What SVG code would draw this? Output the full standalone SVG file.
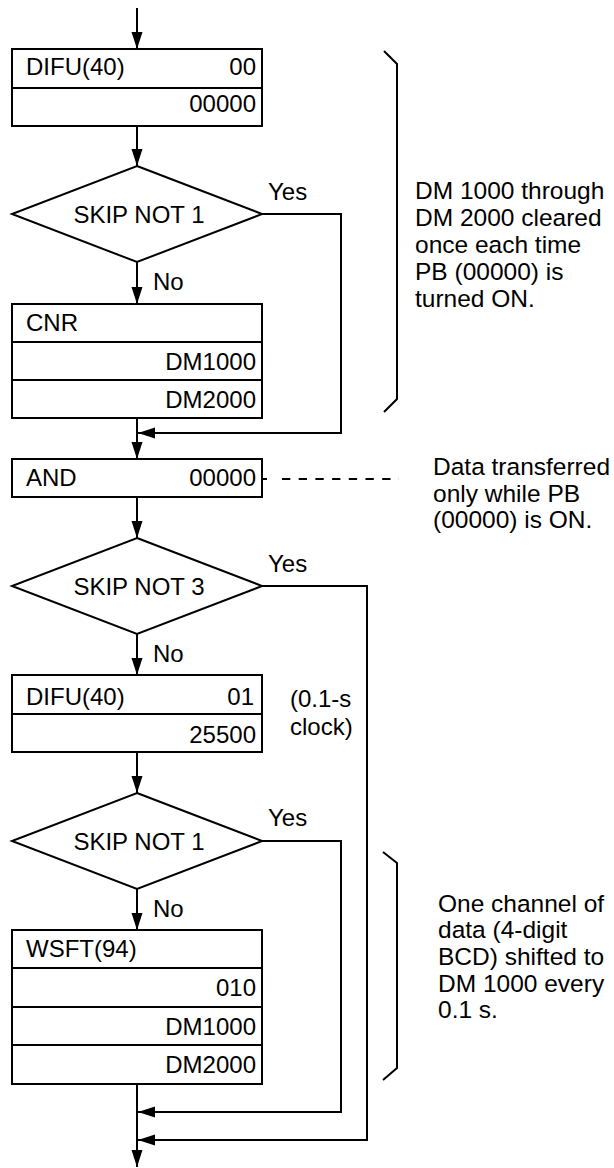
<svg xmlns="http://www.w3.org/2000/svg" width="614" height="1168" viewBox="0 0 614 1168">
<style>
  .box { fill: #fff; stroke: #000; stroke-width: 2; }
  .ln { fill: none; stroke: #000; stroke-width: 2; }
  .t { font-family: "Liberation Sans", Arial, Helvetica, sans-serif; font-size: 24px; fill: #000; }
  .r { text-anchor: end; }
  .m { text-anchor: middle; }
  .note { font-family: "Liberation Sans", Arial, Helvetica, sans-serif; font-size: 24.5px; fill: #000; }
  .arr { fill: none; stroke: #000; stroke-width: 2; marker-end: url(#ah); }
</style>
<defs>
  <marker id="ah" markerUnits="userSpaceOnUse" markerWidth="18" markerHeight="12" refX="17" refY="5.5" orient="auto">
    <path d="M0,0 L17,5.5 L0,11 z" fill="#000"/>
  </marker>
</defs>
<rect width="614" height="1168" fill="#fff"/>

<g id="connectors">
  <line class="arr" x1="137" y1="8" x2="137" y2="49"/>
  <line class="arr" x1="137" y1="126" x2="137" y2="166"/>
  <line class="arr" x1="137" y1="262" x2="137" y2="304"/>
  <line class="arr" x1="137" y1="418" x2="137" y2="459"/>
  <polyline class="arr" points="262,214 341,214 341,433 138,433"/>
  <line class="arr" x1="137" y1="497" x2="137" y2="538"/>
  <line class="arr" x1="137" y1="634" x2="137" y2="675"/>
  <polyline class="arr" points="262,586 367,586 367,1140 138,1140"/>
  <line class="arr" x1="137" y1="752" x2="137" y2="793"/>
  <line class="arr" x1="137" y1="889" x2="137" y2="930"/>
  <polyline class="arr" points="262,841 341,841 341,1112 138,1112"/>
  <line class="arr" x1="137" y1="1084" x2="137" y2="1167"/>
  <line class="ln" x1="263" y1="479" x2="267" y2="479"/>
  <line class="ln" x1="282" y1="479" x2="399" y2="479" stroke-dasharray="8.3 8.4"/>
</g>

<g id="difu1">
  <rect class="box" x="12" y="49" width="250" height="77"/>
  <line class="ln" x1="12" y1="88" x2="262" y2="88"/>
  <text class="t" x="26" y="75">DIFU(40)</text>
  <text class="t r" x="256" y="75">00</text>
  <text class="t r" x="256" y="112">00000</text>
</g>

<g id="skip1">
  <polygon class="box" points="137,166 262,214 137,262 12,214"/>
  <text class="t m" x="139" y="223">SKIP NOT 1</text>
  <text class="t" x="268" y="200">Yes</text>
  <text class="t" x="153" y="290">No</text>
</g>

<g id="cnr">
  <rect class="box" x="12" y="304" width="250" height="114"/>
  <line class="ln" x1="12" y1="342" x2="262" y2="342"/>
  <line class="ln" x1="12" y1="380" x2="262" y2="380"/>
  <text class="t" x="26" y="331">CNR</text>
  <text class="t r" x="256" y="370">DM1000</text>
  <text class="t r" x="256" y="408">DM2000</text>
</g>

<g id="and">
  <rect class="box" x="12" y="459" width="250" height="38"/>
  <text class="t" x="26" y="486">AND</text>
  <text class="t r" x="256" y="486">00000</text>
</g>

<g id="skip3">
  <polygon class="box" points="137,538 262,586 137,634 12,586"/>
  <text class="t m" x="139" y="595">SKIP NOT 3</text>
  <text class="t" x="268" y="572">Yes</text>
  <text class="t" x="153" y="662">No</text>
</g>

<g id="difu2">
  <rect class="box" x="12" y="675" width="250" height="77"/>
  <line class="ln" x1="12" y1="714" x2="262" y2="714"/>
  <text class="t" x="26" y="705">DIFU(40)</text>
  <text class="t r" x="254" y="705">01</text>
  <text class="t r" x="256" y="743">25500</text>
  <text class="t" x="290" y="707">(0.1-s</text>
  <text class="t" x="290" y="735">clock)</text>
</g>

<g id="skip1b">
  <polygon class="box" points="137,793 262,841 137,889 12,841"/>
  <text class="t m" x="139" y="850">SKIP NOT 1</text>
  <text class="t" x="268" y="826">Yes</text>
  <text class="t" x="153" y="917">No</text>
</g>

<g id="wsft">
  <rect class="box" x="12" y="930" width="250" height="154"/>
  <line class="ln" x1="12" y1="968" x2="262" y2="968"/>
  <line class="ln" x1="12" y1="1007" x2="262" y2="1007"/>
  <line class="ln" x1="12" y1="1045" x2="262" y2="1045"/>
  <text class="t" x="26" y="957">WSFT(94)</text>
  <text class="t r" x="256" y="996">010</text>
  <text class="t r" x="256" y="1035">DM1000</text>
  <text class="t r" x="256" y="1073">DM2000</text>
</g>

<g id="note1">
  <polyline class="ln" points="384,51 397,64 397,399 384,412"/>
  <text class="note" x="415" y="199">DM 1000 through</text>
  <text class="note" x="415" y="226">DM 2000 cleared</text>
  <text class="note" x="415" y="253">once each time</text>
  <text class="note" x="415" y="280">PB (00000) is</text>
  <text class="note" x="415" y="307">turned ON.</text>
</g>

<g id="note2">
  <text class="note" x="433" y="475">Data transferred</text>
  <text class="note" x="433" y="502">only while PB</text>
  <text class="note" x="433" y="528">(00000) is ON.</text>
</g>

<g id="note3">
  <polyline class="ln" points="383,852 397,863 397,1068 383,1080"/>
  <text class="note" x="438" y="912">One channel of</text>
  <text class="note" x="438" y="938">data (4-digit</text>
  <text class="note" x="438" y="965">BCD) shifted to</text>
  <text class="note" x="438" y="992">DM 1000 every</text>
  <text class="note" x="438" y="1018">0.1 s.</text>
</g>
</svg>
